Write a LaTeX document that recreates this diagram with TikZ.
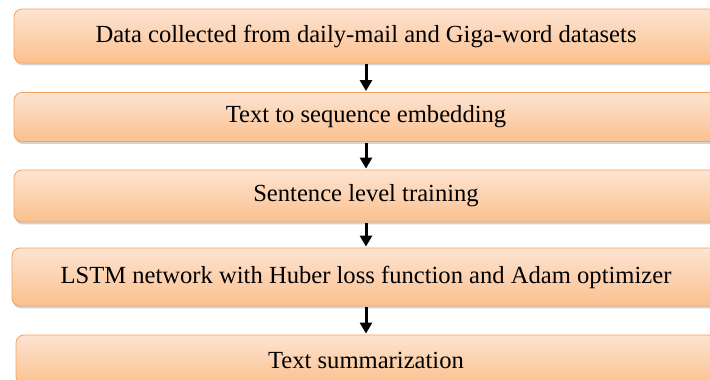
\documentclass[tikz,border=0pt]{standalone}
\usepackage{fontspec}
\setmainfont{Liberation Serif}
\usetikzlibrary{positioning, shadows, arrows.meta}

\definecolor{peachtop}{HTML}{FDE4D2}
\definecolor{peachbot}{HTML}{FBC08E}
\definecolor{peachline}{HTML}{F7A35E}
\tikzset{
  stage/.style={draw=peachline, line width=0.8pt, rounded corners=8pt,
    top color=peachtop, bottom color=peachbot, drop shadow={opacity=0.35, shadow xshift=1pt, shadow yshift=-2.5pt},
    minimum width=704pt, minimum height=52pt, inner sep=0pt,
    font=\fontsize{24.6}{28}\selectfont},
  flow/.style={-{Triangle[width=12pt,length=11pt]}, line width=3pt, shorten <=1pt, shorten >=1pt}
}

\begin{document}
\begin{tikzpicture}[x=1pt,y=1pt,node distance=81pt,on grid]
      \useasboundingbox (0,0) rectangle (710,380);
      \clip (0,0) rectangle (710,380);
      \node[stage, minimum height=54pt] (data) at (366,344) {Data collected from daily-mail and Giga-word datasets};
      \node[stage, minimum height=49pt] (embed) [below=of data] {Text to sequence embedding};
      \node[stage] (train) [below=79pt of embed] {Sentence level training};
      \node[stage, minimum height=58pt, minimum width=708pt] (lstm) [below=of train] {LSTM network with Huber loss function and Adam optimizer};
      \node[stage, minimum height=50pt, minimum width=700pt] (summ) [below=83pt of lstm] {Text summarization};
      \draw[flow] (data) -- (embed);
      \draw[flow] (embed) -- (train);
      \draw[flow] (train) -- (lstm);
      \draw[flow] (lstm) -- (summ);
\end{tikzpicture}
\end{document}
